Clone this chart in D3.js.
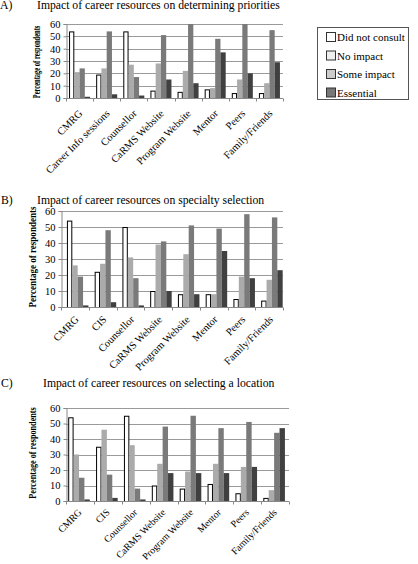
<!DOCTYPE html>
<html><head><meta charset="utf-8">
<script src="https://cdn.jsdelivr.net/npm/d3@7"></script>
<style>body{margin:0;background:#fff}svg{display:block}</style>
</head><body>
<script>
const seriesNames = ["Did not consult","No impact","Some impact","Essential"];
const catsA = ["CMRG","Career Info sessions","Counsellor","CaRMS Website","Program Website","Mentor","Peers","Family/Friends"];
const catsBC = ["CMRG","CIS","Counsellor","CaRMS Website","Program Website","Mentor","Peers","Family/Friends"];
const yTicks = [0,10,20,30,40,50,60];
// Panel A: determining priorities
const aDidNot  = [54,19,54,6,5,7,4,4];
const aNo      = [21,24,27,28,22,8,15,12];
const aSome    = [24,54,17,51,60,48,60,55];
const aEss     = [1,3,2,15,12,37,20,29];
// Panel B: specialty selection
const bDidNot  = [54,22,50,10,8,8,5,4];
const bNo      = [26,27,31,39,33,8,19,17];
const bSome    = [19,48,18,41,51,49,58,56];
const bEss     = [1,3,1,10,8,35,18,23];
// Panel C: selecting a location
const cDidNot  = [54,35,55,10,8,11,5,2];
const cNo      = [30,46,36,24,19,24,22,7];
const cSome    = [15,17,8,48,55,47,51,44];
const cEss     = [1,2,1,18,18,18,22,47];

const barFill = ["#ffffff","#ababab","#7a7a7a","#404040"];
const legFill = ["#ffffff","#eeeeee","#cccccc","#777777"];
const font = "'Liberation Serif','DejaVu Serif',serif";

const svg = d3.select("body").append("svg").attr("width",418).attr("height",564)
  .style("font-family",font);

function panel(o){
  const g = svg.append("g");
  g.append("text").attr("x",o.lx).attr("y",o.ty).attr("font-size",11.7).text(o.letter);
  g.append("text").attr("x",o.tx).attr("y",o.ty).attr("font-size",11.7).text(o.title);
  const x = d3.scaleBand().domain(o.cats).range([o.x0,o.x1]);
  const y = d3.scaleLinear().domain([0,60]).range([o.y1,o.y0]);
  const xs = d3.scaleBand().domain(seriesNames).range([0,x.bandwidth()])
    .paddingOuter(0.58).align(o.align);
  // gridlines
  g.append("g").selectAll("line").data(yTicks.filter(t=>t>0)).join("line")
    .attr("x1",o.x0).attr("x2",o.x1).attr("y1",d=>Math.round(y(d))+0.5).attr("y2",d=>Math.round(y(d))+0.5)
    .attr("stroke","#9a9a9a").attr("stroke-width",1);
  // y axis
  const ya = g.append("g").attr("transform",`translate(${o.x0+0.5},0)`)
    .call(d3.axisLeft(y).tickValues(yTicks).tickSize(3).tickPadding(3));
  ya.select(".domain").attr("stroke","#888");
  ya.selectAll(".tick line").attr("stroke","#888");
  ya.selectAll("text").attr("font-size",10.5).attr("font-family",font).attr("fill","#000");
  // bars
  const data = o.cats.map((c,i)=>({c, v:o.vals.map(s=>s[i])}));
  const grp = g.append("g").selectAll("g").data(data).join("g")
    .attr("transform",d=>`translate(${x(d.c)},0)`);
  grp.selectAll("rect").data(d=>d.v.map((v,k)=>({v,k}))).join("rect")
    .attr("x",d=>xs(seriesNames[d.k])+(d.k===0?0.5:0))
    .attr("width",d=>xs.bandwidth()-(d.k===0?1:0))
    .attr("y",d=>y(d.v)+(d.k===0?0.5:0))
    .attr("height",d=>Math.max(0,y(0)-y(d.v)))
    .attr("fill",d=>barFill[d.k])
    .attr("stroke",d=>d.k===0?"#000":"none").attr("stroke-width",1);
  // x axis
  const xa = g.append("g").attr("transform",`translate(0,${o.y1+0.5})`);
  xa.append("line").attr("x1",o.x0).attr("x2",o.x1).attr("stroke","#888");
  xa.selectAll("line.t").data(o.cats.map(c=>x(c)).concat([o.x1])).join("line").attr("class","t")
    .attr("x1",d=>Math.round(d)+0.5).attr("x2",d=>Math.round(d)+0.5).attr("y1",0).attr("y2",3).attr("stroke","#888");
  xa.selectAll("text").data(o.cats).join("text")
    .attr("transform",d=>`translate(${x(d)+x.bandwidth()/2+o.ldx},${o.ldy}) rotate(-45)`)
    .attr("text-anchor","end").attr("dy","0.35em").attr("font-size",o.lfs).text(d=>d);
  // y title (horizontally compressed as in the reference)
  g.append("text").attr("transform",`translate(${o.yl},${o.ylc}) rotate(-90) scale(${o.ysx},1)`)
    .attr("text-anchor","middle").attr("font-size",10.5).attr("font-weight","bold")
    .text("Percentage of respondents");
}

panel({letter:"A)",lx:0,tx:37,ty:9,title:"Impact of career resources on determining priorities",
  cats:catsA,vals:[aDidNot,aNo,aSome,aEss],x0:66,x1:283,y0:24,y1:98,yl:40,ylc:62,ysx:0.62,
  align:0.5,ldx:1,ldy:13,lfs:10.5});
panel({letter:"B)",lx:1,tx:37,ty:204,title:"Impact of career resources on specialty selection",
  cats:catsBC,vals:[bDidNot,bNo,bSome,bEss],x0:61,x1:283,y0:211,y1:307,yl:36,ylc:257,ysx:0.86,
  align:0.95,ldx:2,ldy:10,lfs:10.5});
panel({letter:"C)",lx:1,tx:43,ty:387,title:"Impact of career resources on selecting a location",
  cats:catsBC,vals:[cDidNot,cNo,cSome,cEss],x0:66,x1:289,y0:408,y1:501,yl:36,ylc:453,ysx:0.78,
  align:0.35,ldx:0,ldy:9,lfs:9.8});

// legend
const lg = svg.append("g");
lg.append("rect").attr("x",317.5).attr("y",27.5).attr("width",91).attr("height",72)
  .attr("fill","#fff").attr("stroke","#555");
const li = lg.selectAll("g").data(seriesNames).join("g")
  .attr("transform",(d,i)=>`translate(326,${37+i*18.5})`);
li.append("rect").attr("x",0.5).attr("y",-4.5).attr("width",9).attr("height",9)
  .attr("fill",(d,i)=>legFill[i]).attr("stroke","#333");
li.append("text").attr("x",11).attr("y",4).attr("font-size",11).text(d=>d);
</script>
</body></html>
